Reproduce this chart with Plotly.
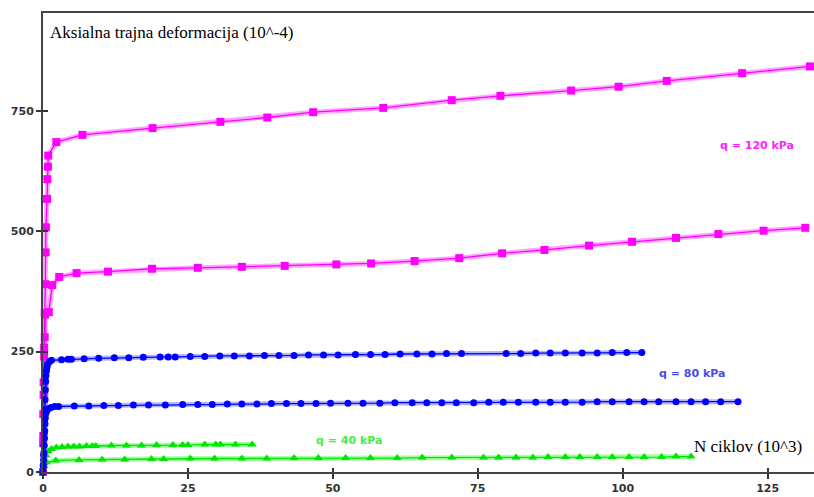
import plotly.graph_objects as go

# ---------------- data ----------------
# q = 120 kPa, test A (upper magenta)
m1_x = [0, 0.05, 0.1, 0.2, 0.3, 0.4, 0.45, 0.5, 0.7, 0.75, 0.85, 0.9, 2.3, 6.8, 18.9, 30.6, 38.7, 46.6,
        58.7, 70.5, 78.9, 91.1, 99.3, 107.6, 120.6, 132.3]
m1_y = [0, 75, 160, 240, 330, 390, 456, 508, 567, 608, 634, 657, 685, 700, 714, 727, 736, 747,
        756, 772, 781, 792, 800, 812, 828, 842]

# q = 120 kPa, test B (lower magenta)
m2_x = [0, 0.02, 0.05, 0.1, 0.2, 0.3, 0.35, 1.0, 1.6, 2.8, 5.8, 11.2, 18.8, 26.7, 34.3, 41.7, 50.6,
        56.6, 64.1, 71.8, 79.2, 86.5, 94.2, 101.6, 109.2, 116.5, 124.3, 131.5]
m2_y = [0, 60, 120, 186, 258, 280, 327, 332, 388, 405, 413, 416, 422, 424, 426, 428, 431,
        433, 438, 444, 454, 461, 470, 478, 486, 494, 501, 507]

# q = 80 kPa, test A (upper blue)
b1_x = [0, 0.05, 0.1, 0.15, 0.2, 0.25, 0.3, 0.35, 0.4, 0.45, 0.5, 0.6, 0.7, 0.8, 1.1, 1.45,
        3.2, 4.3, 4.9, 7.1, 9.6, 12.3, 14.8, 17.3, 20.2, 21.6, 22.8, 25.4, 27.9, 30.5, 33.0, 35.6,
        38.2, 40.7, 43.3, 45.8, 48.4, 50.9, 53.9, 56.5, 59.0, 61.6, 64.5, 67.1, 69.6, 72.2,
        79.9, 82.4, 85.0, 87.5, 90.1, 93.0, 95.6, 98.2, 100.7, 103.3]
b1_y = [0, 15, 35, 55, 80, 105, 130, 150, 170, 188, 200, 210, 218, 224, 229, 232,
        233, 234, 234, 235, 236, 237, 237, 238, 239, 239, 239, 240, 240, 241, 241, 241,
        242, 242, 242, 243, 243, 243, 244, 244, 244, 245, 245, 245, 246, 246,
        246, 246, 247, 247, 247, 247, 247, 248, 248, 248]

# q = 80 kPa, test B (lower blue)
b2_x = [0, 0.05, 0.1, 0.15, 0.2, 0.25, 0.3, 0.35, 0.4, 0.5, 0.7, 1.0, 1.4,
        2.0, 2.7, 5.4, 7.9, 10.5, 13.0, 15.6, 18.2, 21.1, 24.1, 26.7, 29.2, 31.8, 34.3, 36.9,
        39.4, 42.0, 44.5, 47.1, 49.6, 52.6, 55.2, 58.1, 60.7, 63.7, 66.2, 68.8, 71.3, 74.3,
        76.9, 79.4, 82.0, 85.0, 87.5, 90.1, 93.0, 95.6, 98.2, 101.1, 103.7, 106.2, 109.2,
        111.8, 114.3, 116.9, 119.9]
b2_y = [0, 12, 25, 40, 55, 70, 85, 100, 112, 122, 128, 132, 134,
        136, 136, 137, 137, 138, 138, 139, 139, 139, 140, 140, 140, 141, 141, 141,
        142, 142, 142, 142, 143, 143, 143, 143, 144, 144, 144, 144, 144, 144,
        145, 145, 145, 145, 145, 145, 145, 146, 146, 146, 146, 146, 146,
        146, 146, 146, 146]

# q = 40 kPa, test A (upper green)
g1_x = [0, 0.2, 0.5, 0.9, 1.45, 2.3, 3.3, 4.3, 5.3, 6.3, 7.5, 8.5, 9.1, 11.8, 14.4, 17.0, 19.6,
        22.4, 24.1, 25.0, 27.9, 29.8, 30.6, 33.2, 36.1]
g1_y = [0, 18, 34, 43, 48, 51, 52, 53, 53, 53, 54, 54, 54, 55, 55, 55, 56,
        56, 56, 56, 57, 57, 57, 57, 57]

# q = 40 kPa, test B (lower green)
g2_x = [0, 0.2, 0.6, 2.2, 6.2, 10.2, 14.1, 18.7, 20.8, 25.4, 29.6, 34.3, 38.6, 43.3, 47.5, 52.2,
        56.5, 61.1, 65.4, 70.5, 76.0, 78.6, 81.6, 84.5, 87.1, 90.1, 92.6, 95.6, 98.2, 101.1,
        103.7, 106.7, 109.2, 111.8]
g2_y = [0, 12, 20, 24, 25, 26, 26, 27, 27, 28, 28, 28, 28, 29, 29, 29,
        29, 29, 30, 30, 30, 30, 30, 30, 31, 31, 31, 31, 31, 31,
        31, 31, 32, 32]

x_ticks = [0, 25, 50, 75, 100, 125]
y_ticks = [0, 250, 500, 750]

y_title = "Aksialna trajna deformacija (10^-4)"
x_title = "N ciklov (10^3)"
labels = ["q = 120 kPa", "q = 80 kPa", "q = 40 kPa"]

# ---------------- figure ----------------
fig = go.Figure()

def add_series(xs, ys, color, halo, symbol, size):
    fig.add_trace(go.Scatter(x=xs, y=ys, mode="lines", line=dict(color=halo, width=5),
                             showlegend=False, hoverinfo="skip", cliponaxis=False))
    fig.add_trace(go.Scatter(x=xs, y=ys, mode="lines+markers", line=dict(color=color, width=1.3),
                             marker=dict(symbol=symbol, size=size, color=color, line=dict(width=0)),
                             showlegend=False, cliponaxis=False))

MAG, MAG_H = "#ff00ff", "rgba(255,0,255,0.35)"
BLU, BLU_H = "#0000ff", "rgba(40,40,255,0.35)"
GRN, GRN_H = "#00e600", "rgba(0,255,0,0.35)"

add_series(m1_x, m1_y, MAG, MAG_H, "square", 8)
add_series(m2_x, m2_y, MAG, MAG_H, "square", 8)
add_series(g1_x, g1_y, GRN, GRN_H, "triangle-up", 8)
add_series(g2_x, g2_y, GRN, GRN_H, "triangle-up", 8)
add_series(b1_x, b1_y, BLU, BLU_H, "circle", 7)
add_series(b2_x, b2_y, BLU, BLU_H, "circle", 7)

# dummy trace for the overlay axes that draw the inner half of the crossing ticks
fig.add_trace(go.Scatter(x=[None], y=[None], xaxis="x2", yaxis="y2", showlegend=False,
                         hoverinfo="skip"))

XR = [0, 133]
YR = [0, 953]
tickfont = dict(family="DejaVu Sans", size=11, color="#333333", weight="bold")

fig.update_layout(
    width=814, height=497,
    margin=dict(l=43, r=0, t=13, b=25, autoexpand=False),
    paper_bgcolor="white", plot_bgcolor="white",
    showlegend=False,
    xaxis=dict(range=XR, tickvals=x_ticks, showgrid=False, zeroline=False, automargin=False,
               showline=True, linecolor="#444444", linewidth=2, mirror=True,
               ticks="outside", ticklen=5, tickwidth=1.5, tickcolor="#333333",
               tickfont=tickfont, ticklabelstandoff=0),
    yaxis=dict(range=YR, tickvals=y_ticks, showgrid=False, zeroline=False, automargin=False,
               showline=True, linecolor="#444444", linewidth=2,
               ticks="outside", ticklen=5, tickwidth=1.5, tickcolor="#333333",
               tickfont=tickfont),
    xaxis2=dict(range=XR, overlaying="x", anchor="y", side="bottom", tickvals=x_ticks,
                ticks="inside", ticklen=4, tickwidth=1.5, tickcolor="#333333", automargin=False,
                showticklabels=False, showgrid=False, zeroline=False, showline=False),
    yaxis2=dict(range=YR, overlaying="y", anchor="x", side="left", tickvals=y_ticks,
                ticks="inside", ticklen=5, tickwidth=1.5, tickcolor="#333333", automargin=False,
                showticklabels=False, showgrid=False, zeroline=False, showline=False),
)

serif = dict(family="Liberation Serif", size=17, color="black")
lab = dict(family="DejaVu Sans", size=11, weight="bold")
fig.add_annotation(x=0.8, y=912, xref="x", yref="y", text=y_title, showarrow=False,
                   xanchor="left", yanchor="middle", font=serif)
fig.add_annotation(x=112, y=53, xref="x", yref="y", text=x_title, showarrow=False,
                   xanchor="left", yanchor="middle", font=serif)
fig.add_annotation(x=116.5, y=677, xref="x", yref="y", text=labels[0], showarrow=False,
                   xanchor="left", yanchor="middle", font=dict(lab, color="#ff22ff"))
fig.add_annotation(x=106, y=204, xref="x", yref="y", text=labels[1], showarrow=False,
                   xanchor="left", yanchor="middle", font=dict(lab, color="#4a4af0"))
fig.add_annotation(x=46.7, y=65, xref="x", yref="y", text=labels[2], showarrow=False,
                   xanchor="left", yanchor="middle", font=dict(lab, color="#44ee44"))

fig.write_html("out.html")
